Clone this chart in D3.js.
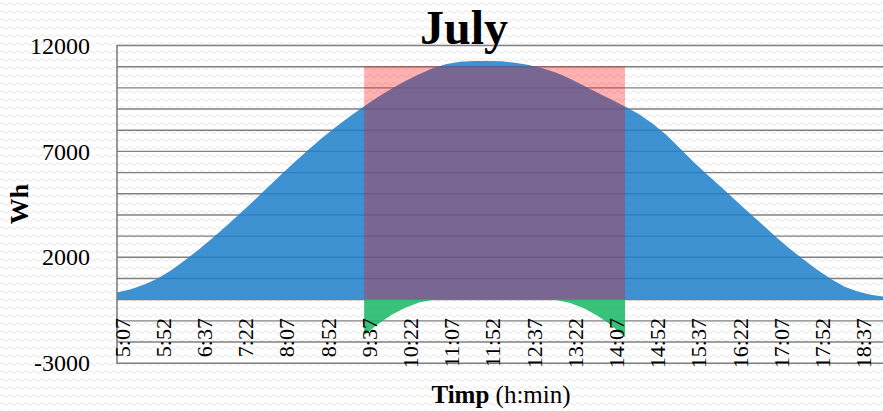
<!DOCTYPE html>
<html>
<head>
<meta charset="utf-8">
<script src="https://cdn.jsdelivr.net/npm/d3@7/dist/d3.min.js"></script>
<style>
  html, body { margin: 0; padding: 0; background: #fff; }
  svg { display: block; }
  text { font-family: "Liberation Serif", "DejaVu Serif", serif; fill: #000; }
</style>
</head>
<body>
<svg id="chart" width="883" height="411"></svg>
<script>
// Time of day, every 15 minutes
const times = ["5:07","5:22","5:37","5:52","6:07","6:22","6:37","6:52","7:07","7:22",
  "7:37","7:52","8:07","8:22","8:37","8:52","9:07","9:22","9:37","9:52",
  "10:07","10:22","10:37","10:52","11:07","11:22","11:37","11:52","12:07","12:22",
  "12:37","12:52","13:07","13:22","13:37","13:52","14:07","14:22","14:37","14:52",
  "15:07","15:22","15:37","15:52","16:07","16:22","16:37","16:52","17:07","17:22",
  "17:37","17:52","18:07","18:22","18:37","18:52","19:07"];

// Energy produced (Wh)
const production = [310,470,690,990,1390,1860,2370,2910,3475,4065,
  4675,5295,5910,6510,7090,7640,8160,8650,9110,9540,
  9940,10300,10620,10900,11100,11210,11250,11250,11230,11160,
  11050,10900,10690,10410,10080,9750,9430,9100,8740,8290,
  7760,7120,6480,5870,5290,4690,4100,3520,2930,2380,
  1870,1390,950,590,350,200,100];

// Energy required during the working window (Wh)
const demand = [null,null,null,null,null,null,null,null,null,null,
  null,null,null,null,null,null,null,null,11000,11000,
  11000,11000,11000,11000,11000,11000,11000,11000,11000,11000,
  11000,11000,11000,11000,11000,11000,11000,11000,null,null,
  null,null,null,null,null,null,null,null,null,null,
  null,null,null,null,null,null,null];

// Shortfall during the working window (Wh)
const shortfall = [null,null,null,null,null,null,null,null,null,null,
  null,null,null,null,null,null,null,null,-1700,-1180,
  -740,-400,-160,-30,0,0,0,0,0,0,
  0,0,-40,-180,-430,-780,-1230,-1800,null,null,
  null,null,null,null,null,null,null,null,null,null,
  null,null,null,null,null,null,null];

const xTickLabels = ["5:07","5:52","6:37","7:22","8:07","8:52","9:37","10:22","11:07",
  "11:52","12:37","13:22","14:07","14:52","15:37","16:22","17:07","17:52","18:37"];
const yTickLabels = [12000, 7000, 2000, -3000];
const gridValues = d3.range(-3000, 12001, 1000);

const svg = d3.select("#chart");
const W = 883, H = 411;
const plotLeft = 117, plotRight = 883, plotTop = 45, plotBottom = 362.7;

// Faint wavy paper texture
const defs = svg.append("defs");
const pat = defs.append("pattern").attr("id", "waves")
  .attr("patternUnits", "userSpaceOnUse").attr("width", 8).attr("height", 8);
pat.append("path").attr("d", "M0,4 Q2,1.5 4,4 T8,4")
  .attr("fill", "none").attr("stroke", "#eeeeee").attr("stroke-width", 1.3);
defs.append("clipPath").attr("id", "plotclip")
  .append("rect").attr("x", plotLeft).attr("y", 0).attr("width", plotRight - plotLeft).attr("height", H);

svg.append("rect").attr("width", W).attr("height", H).attr("fill", "#fff");
svg.append("rect").attr("width", W).attr("height", H).attr("fill", "url(#waves)");

const x = d3.scalePoint().domain(times)
  .range([plotLeft, plotLeft + 13.73 * (times.length - 1)]).padding(0);
const y = d3.scaleLinear().domain([-3000, 12000]).range([plotBottom, plotTop]);

// Horizontal gridlines
const grid = svg.append("g").attr("transform", `translate(${plotLeft},0)`)
  .call(d3.axisLeft(y).tickValues(gridValues).tickSize(-(plotRight - plotLeft)).tickFormat(""));
grid.select(".domain").remove();
grid.selectAll(".tick line").attr("stroke", "#808080").attr("stroke-width", 1.4);

const plot = svg.append("g").attr("clip-path", "url(#plotclip)");

const areaOf = (vals) => d3.area()
  .defined((d, i) => vals[i] !== null)
  .x((d, i) => x(times[i]))
  .y0(y(0))
  .y1((d, i) => y(vals[i]));

plot.append("path").datum(production).attr("d", areaOf(production))
  .attr("fill", "#1f80cb").attr("fill-opacity", 0.86);
plot.append("path").datum(shortfall).attr("d", areaOf(shortfall))
  .attr("fill", "#1ab865").attr("fill-opacity", 0.86);
plot.append("path").datum(demand).attr("d", areaOf(demand))
  .attr("fill", "#ff0000").attr("fill-opacity", 0.3);

// Value axis line and labels
svg.append("line").attr("x1", plotLeft).attr("x2", plotLeft)
  .attr("y1", plotTop).attr("y2", plotBottom + 1)
  .attr("stroke", "#777").attr("stroke-width", 1.5);

const yAxis = svg.append("g").attr("transform", `translate(${plotLeft},0)`)
  .call(d3.axisLeft(y).tickValues(yTickLabels).tickSize(0).tickPadding(27).tickFormat(d => String(d)));
yAxis.select(".domain").remove();
yAxis.selectAll("text").style("font-size", "24px").attr("dy", "0.34em")
  .style("font-family", "'Liberation Serif', serif");

// Time labels, rotated
const xAxis = svg.append("g").attr("transform", "translate(0,318)")
  .call(d3.axisBottom(x).tickValues(xTickLabels).tickSize(0));
xAxis.select(".domain").remove();
xAxis.selectAll("text")
  .attr("transform", "rotate(-90)")
  .attr("text-anchor", "end")
  .attr("x", 0).attr("y", 4.5).attr("dy", "0.35em")
  .style("font-size", "22px")
  .style("font-family", "'Liberation Serif', serif");

// Titles
svg.append("text").attr("x", 464).attr("y", 44).attr("text-anchor", "middle")
  .style("font-size", "48px").style("font-weight", "bold").text("July");

svg.append("text").attr("transform", "translate(28,204) rotate(-90)")
  .attr("text-anchor", "middle")
  .style("font-size", "26px").style("font-weight", "bold").text("Wh");

const xt = svg.append("text").attr("x", 501).attr("y", 403).attr("text-anchor", "middle")
  .style("font-size", "25px");
xt.append("tspan").style("font-weight", "bold").text("Timp");
xt.append("tspan").text(" (h:min)");
</script>
</body>
</html>
